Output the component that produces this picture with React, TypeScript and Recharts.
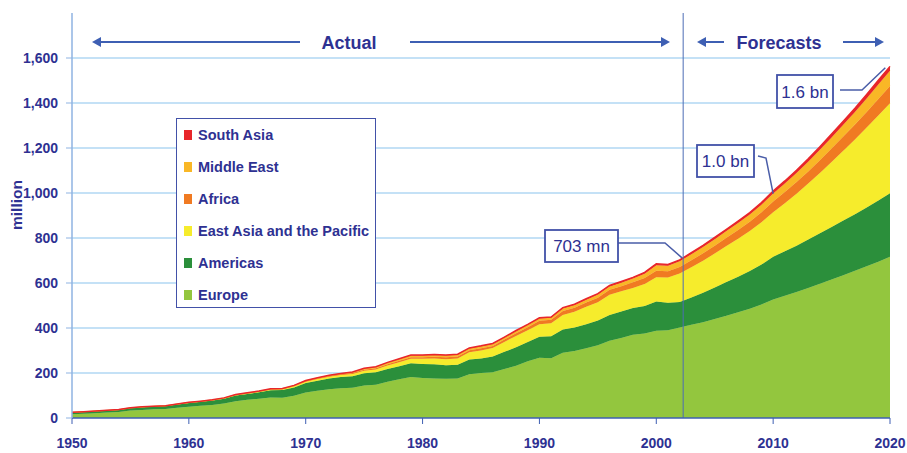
import React from 'react';
import {
  AreaChart, Area, XAxis, YAxis, CartesianGrid, ReferenceLine,
} from 'recharts';

// International tourist arrivals by region, million (actual to 2002, forecasts to 2020)
const years = [
  1950, 1951, 1952, 1953, 1954, 1955, 1956, 1957, 1958, 1959,
  1960, 1961, 1962, 1963, 1964, 1965, 1966, 1967, 1968, 1969,
  1970, 1971, 1972, 1973, 1974, 1975, 1976, 1977, 1978, 1979,
  1980, 1981, 1982, 1983, 1984, 1985, 1986, 1987, 1988, 1989,
  1990, 1991, 1992, 1993, 1994, 1995, 1996, 1997, 1998, 1999,
  2000, 2001, 2002, 2003, 2004, 2005, 2006, 2007, 2008, 2009,
  2010, 2011, 2012, 2013, 2014, 2015, 2016, 2017, 2018, 2019, 2020,
];
const europe = [
  16.8, 19, 21.5, 24, 26.5, 33, 36, 38.5, 40, 46,
  50.4, 54, 58, 64, 75, 81, 86, 91, 90, 99,
  113, 121, 128, 132, 134, 145, 148, 161, 172, 182,
  178, 176, 175, 176, 195, 200, 203, 218, 232, 252,
  268, 266, 290, 298, 310, 323, 343, 356, 370, 376,
  388, 390, 402, 414, 426, 440, 455, 470, 486, 505,
  527, 543, 560, 578, 597, 616, 635, 654, 674, 695, 717,
];
const americas = [
  7.5, 8, 8.5, 9, 9.5, 11, 12, 12.5, 13, 14.5,
  16.7, 18, 19.5, 21.5, 24.5, 26, 28, 32, 34, 37,
  42.3, 45, 47.5, 50, 52, 54, 55, 57, 58.5, 61,
  62.3, 63, 60, 60.5, 65, 65, 70, 76, 82, 86,
  93, 97, 103, 104, 107, 110, 115, 117, 119, 122,
  130, 122, 114, 122, 131, 140, 149, 158, 167, 177,
  190, 198, 206, 215, 224, 233, 243, 252, 262, 272, 282,
];
const eastAsia = [
  0.2, 0.3, 0.3, 0.4, 0.4, 0.5, 0.5, 0.6, 0.6, 0.7,
  0.9, 1.1, 1.3, 1.6, 2, 2.4, 2.8, 3.3, 3.8, 4.8,
  6.2, 7, 8, 9, 10, 11.5, 13, 15, 17.5, 20,
  23, 25, 26.5, 28, 32, 35, 38, 44, 51, 52,
  56, 58, 65, 70, 77, 82, 90, 90, 89, 98,
  108, 112, 126, 134, 142, 151, 160, 169, 178, 188,
  198, 214, 231, 249, 268, 289, 310, 332, 355, 378, 400,
];
const africa = [
  0.5, 0.5, 0.5, 0.5, 0.5, 0.6, 0.6, 0.6, 0.6, 0.7,
  0.8, 0.9, 1, 1.1, 1.2, 1.3, 1.4, 1.6, 1.7, 1.9,
  2.4, 2.7, 3, 3.3, 3.7, 4.5, 5, 5.8, 6.4, 6.8,
  7.2, 7.8, 8, 8.5, 9, 9.7, 9.5, 10.5, 12, 13.5,
  15, 16, 18, 18.5, 19, 20, 21.5, 23, 25, 26.5,
  28, 28.5, 29.5, 31, 33, 35, 37, 39, 41, 44,
  47, 49, 52, 54, 57, 60, 63, 66, 69, 73, 77,
];
const middleEast = [
  0.2, 0.2, 0.3, 0.3, 0.3, 0.4, 0.4, 0.4, 0.5, 0.5,
  0.6, 0.7, 0.8, 0.9, 1, 1.1, 1.2, 1.3, 1.4, 1.6,
  1.9, 2.1, 2.4, 2.7, 3.4, 4.5, 5.5, 6.5, 7, 7.5,
  7.5, 7.8, 8, 8, 8, 8.5, 8, 8.5, 9, 9.5,
  10, 8.5, 11, 11.5, 13, 13.7, 15, 15.5, 16.5, 19,
  25, 24, 25.5, 27, 28, 29, 30, 31, 32, 34,
  36, 38, 40, 43, 46, 49, 52, 56, 60, 64, 67,
];
const southAsia = [
  0.1, 0.1, 0.1, 0.1, 0.1, 0.1, 0.1, 0.1, 0.2, 0.2,
  0.2, 0.2, 0.3, 0.3, 0.4, 0.4, 0.5, 0.6, 0.6, 0.7,
  0.9, 1, 1.1, 1.2, 1.3, 1.5, 1.7, 1.9, 2.1, 2.3,
  2.3, 2.4, 2.4, 2.4, 2.5, 2.5, 2.6, 2.7, 2.8, 3,
  3.2, 3.3, 3.5, 3.8, 4, 4.2, 4.5, 5, 5.5, 5.8,
  6, 6, 6, 6.4, 6.8, 7.3, 7.8, 8.4, 9, 9.8,
  11, 11.6, 12.3, 13, 13.8, 14.7, 15.6, 16.6, 17.7, 18.8, 19.8,
];

const xTicks = [1950, 1960, 1970, 1980, 1990, 2000, 2010, 2020];
const yTicks = [0, 200, 400, 600, 800, 1000, 1200, 1400, 1600];

const series = [
  { key: 'europe', name: 'Europe', color: '#93C63E' },
  { key: 'americas', name: 'Americas', color: '#2B8F3B' },
  { key: 'eastAsia', name: 'East Asia and the Pacific', color: '#F6EC2C' },
  { key: 'africa', name: 'Africa', color: '#F07A22' },
  { key: 'middleEast', name: 'Middle East', color: '#F9B726' },
  { key: 'southAsia', name: 'South Asia', color: '#E8262A' },
];

const data = years.map((year, i) => ({
  year,
  europe: europe[i],
  americas: americas[i],
  eastAsia: eastAsia[i],
  africa: africa[i],
  middleEast: middleEast[i],
  southAsia: southAsia[i],
}));

const W = 907;
const H = 453;
const NAVY = '#2E3192';
const LINE = '#3E5FB3';
const FONT = '"Liberation Sans", Arial, sans-serif';

// plot geometry (must match margins/axis sizes below)
const PL = 72, PR = 890, PT = 13, PB = 418;
const X0 = 1950, X1 = 2020, YMAX = 1800;
const sx = (yr: number) => PL + ((yr - X0) / (X1 - X0)) * (PR - PL);
const sy = (v: number) => PB - (v / YMAX) * (PB - PT);

function LegendBox() {
  const rows = [...series].reverse();
  return (
    <div style={{
      position: 'absolute', left: 176, top: 118,
      width: 200, height: 190, border: `1.5px solid #4251A8`, background: '#fff',
      boxSizing: 'border-box', padding: '0 0 0 7px', fontFamily: FONT,
    }}>
      {rows.map((s) => (
        <div key={s.key} style={{ display: 'flex', alignItems: 'center', height: 32 }}>
          <span style={{ width: 8, height: 10, background: s.color, marginRight: 6 }} />
          <span style={{ color: NAVY, fontWeight: 'bold', fontSize: 14.5 }}>{s.name}</span>
        </div>
      ))}
    </div>
  );
}

function Callout({ x, y, w, h, text, path }: { x: number; y: number; w: number; h: number; text: string; path: string }) {
  return (
    <g>
      <path d={path} fill="none" stroke="#4A5DA8" strokeWidth={1.5} />
      <rect x={x} y={y} width={w} height={h} fill="#fff" stroke="#4251A8" strokeWidth={1.8} />
      <text x={x + w / 2} y={y + h / 2 + 6} textAnchor="middle" fontFamily={FONT} fontSize={17} fill={NAVY}>{text}</text>
    </g>
  );
}

function Overlay() {
  const ay = 42;
  const head = (x: number, dir: 1 | -1) => (
    <polygon points={`${x},${ay} ${x - dir * 9},${ay - 5} ${x - dir * 9},${ay + 5}`} fill={LINE} />
  );
  const e2002 = 703, e2010 = 1006, e2020 = 1561;
  return (
    <svg width={W} height={H} style={{ position: 'absolute', left: 0, top: 0, pointerEvents: 'none' }}>
      <line x1={96} y1={ay} x2={300} y2={ay} stroke={LINE} strokeWidth={2} />
      {head(92, -1)}
      <text x={349} y={ay + 7} textAnchor="middle" fontFamily={FONT} fontWeight="bold" fontSize={18} fill={NAVY}>Actual</text>
      <line x1={410} y1={ay} x2={664} y2={ay} stroke={LINE} strokeWidth={2} />
      {head(670, 1)}
      <line x1={702} y1={ay} x2={724} y2={ay} stroke={LINE} strokeWidth={2} />
      {head(697, -1)}
      <text x={779} y={ay + 7} textAnchor="middle" fontFamily={FONT} fontWeight="bold" fontSize={18} fill={NAVY}>Forecasts</text>
      <line x1={843} y1={ay} x2={879} y2={ay} stroke={LINE} strokeWidth={2} />
      {head(884, 1)}

      <text transform="translate(22,205) rotate(-90)" textAnchor="middle" fontFamily={FONT} fontWeight="bold" fontSize={15.5} fill={NAVY}>million</text>

      <Callout x={545} y={230} w={73} h={32} text="703 mn"
        path={`M618,243 L665,243 L${sx(2002.2)},${sy(e2002) - 2}`} />
      <Callout x={697} y={145} w={57} h={32} text="1.0 bn"
        path={`M758,156 L766,158 L${sx(2010)},${sy(e2010) + 2}`} />
      <Callout x={777} y={75} w={56} h={33} text="1.6 bn"
        path={`M840,90 L862,90 L${sx(2019.6)},${sy(e2020) + 1}`} />
    </svg>
  );
}

export default function App() {
  return (
    <div style={{ position: 'absolute', left: 0, top: 0, width: W, height: H, background: '#fff' }}>
      <AreaChart width={W} height={H} data={data} margin={{ top: PT, right: W - PR, bottom: 0, left: 0 }}>
        <CartesianGrid horizontal vertical={false} stroke="#C4E1F6" strokeWidth={2}
          horizontalCoordinatesGenerator={() => yTicks.slice(1).map(sy)} />
        <XAxis type="number" dataKey="year" domain={[X0, X1]} ticks={xTicks} height={H - PB}
          axisLine={{ stroke: LINE, strokeWidth: 1.5 }} tickLine={{ stroke: LINE }} tickSize={6} tickMargin={14}
          tick={{ fill: NAVY, fontSize: 14, fontWeight: 'bold', fontFamily: FONT }} />
        <YAxis type="number" domain={[0, YMAX]} ticks={yTicks} width={PL} allowDataOverflow
          tickFormatter={(v: number) => v.toLocaleString('en-US')}
          axisLine={{ stroke: '#8FB3E2', strokeWidth: 1.5 }} tickLine={{ stroke: '#8FB3E2' }} tickSize={6} tickMargin={8}
          tick={{ fill: NAVY, fontSize: 14, fontWeight: 'bold', fontFamily: FONT }} />
        {series.map((s) => (
          <Area key={s.key} dataKey={s.key} name={s.name} stackId="1" type="linear"
            fill={s.color} fillOpacity={1} stroke={s.color} strokeWidth={s.key === 'southAsia' ? 1.5 : 0.5}
            isAnimationActive={false} dot={false} activeDot={false} />
        ))}
        <ReferenceLine x={2002.3} stroke="#4D6DB5" strokeWidth={1} />
      </AreaChart>
      <LegendBox />
      <Overlay />
    </div>
  );
}
